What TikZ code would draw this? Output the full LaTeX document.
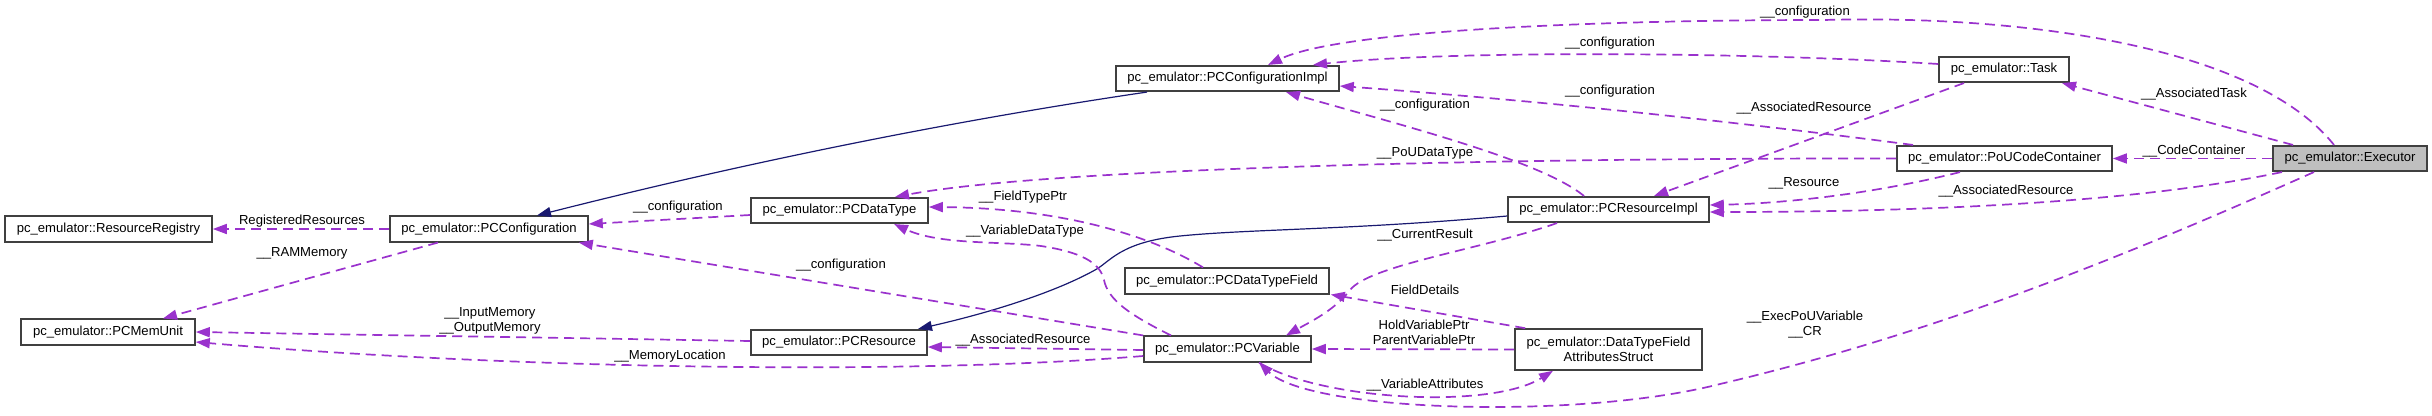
\documentclass[tikz,border=0pt]{standalone}
\usepackage{fontspec}
\setmainfont{Liberation Sans}
\usetikzlibrary{arrows.meta,calc}
\definecolor{depc}{HTML}{9A32CD}
\definecolor{inhc}{HTML}{191970}
\definecolor{bordc}{HTML}{404040}
\definecolor{exefill}{HTML}{BFBFBF}
\begin{document}
\begin{tikzpicture}[x=1pt,y=-1pt,
  cls/.style={draw=bordc,line width=1.6pt,fill=white,inner sep=0pt,minimum height=25.5pt,font=\fontsize{13.1}{15}\selectfont,text=black,align=center},
  lbl/.style={inner sep=0pt,font=\fontsize{13.1}{15}\selectfont,align=center,text=black},
  usage/.style={draw=depc,line width=1.7pt,dash pattern=on 10pt off 6pt,-{Triangle[length=14pt,width=10pt]}},
  inherit/.style={draw=inhc,line width=1.2pt,-{Triangle[length=14pt,width=10pt]}}]
\useasboundingbox (0,0) rectangle (2432,415);
% classes
\node[cls,minimum width=207pt] (RR) at (108.5,229) {pc\_emulator::ResourceRegistry};
\node[cls,minimum width=198pt] (PCC) at (489,229) {pc\_emulator::PCConfiguration};
\node[cls,minimum width=174pt] (MEM) at (108,332) {pc\_emulator::PCMemUnit};
\node[cls,minimum width=223pt] (IMPL) at (1227.5,78.5) {pc\_emulator::PCConfigurationImpl};
\node[cls,minimum width=177pt] (DT) at (839.5,210.5) {pc\_emulator::PCDataType};
\node[cls,minimum width=176pt] (RES) at (839,342.5) {pc\_emulator::PCResource};
\node[cls,minimum width=204pt] (DTF) at (1227,281) {pc\_emulator::PCDataTypeField};
\node[cls,minimum width=167pt] (VAR) at (1227.5,349) {pc\_emulator::PCVariable};
\node[cls,minimum width=201pt] (RIMPL) at (1608.5,209.5) {pc\_emulator::PCResourceImpl};
\node[cls,minimum width=187pt,minimum height=41pt] (DTFAS) at (1608.5,349.5) {pc\_emulator::DataTypeField\\AttributesStruct};
\node[cls,minimum width=130pt] (TASK) at (2004,69.5) {pc\_emulator::Task};
\node[cls,minimum width=215pt] (POU) at (2004.5,158.5) {pc\_emulator::PoUCodeContainer};
\node[cls,minimum width=154pt,fill=exefill] (EXE) at (2350,158.5) {pc\_emulator::Executor};
% inheritance
\draw[inherit] ([xshift=-80.5pt]IMPL.south) .. controls (944,122) and (740,164) .. ([xshift=48pt]PCC.north);
\draw[inherit] ([yshift=-6.5pt]RIMPL.west) .. controls (1350,230) and (1250,229) .. (1180,236) .. controls (1120,242) and (1110,262) .. (1095,270) .. controls (1050,295) and (980,315) .. ([xshift=79pt]RES.north);
% usage
\draw[usage] (PCC.west) -- (RR.east);
\draw[usage] ([xshift=-51pt]PCC.south) -- ([xshift=55pt]MEM.north);
\draw[usage] ([yshift=-4.5pt]DT.west) -- ([yshift=5pt]PCC.east);
\draw[usage] (VAR.north west) -- ([xshift=-10pt]PCC.south east);
\draw[usage] ([yshift=1.5pt]RES.west) -- (MEM.east);
\draw[usage] ([yshift=-7pt]VAR.west) .. controls (900,376) and (500,368) .. ([yshift=-10pt]MEM.east);
\draw[usage] ([xshift=-24pt]DTF.north) .. controls (1150,235) and (1060,208) .. ([yshift=3.5pt]DT.east);
\draw[usage] ([xshift=-56.5pt]VAR.north) .. controls (1130,315) and (1108,300) .. (1104,280) .. controls (1100,262) and (1080,252) .. (1041,246) .. controls (1000,241) and (940,245) .. ([xshift=54.5pt]DT.south);
\draw[usage] ([yshift=-1pt]VAR.west) -- ([yshift=-4.5pt]RES.east);
\draw[usage] ([xshift=-51.5pt]RIMPL.south) .. controls (1480,250) and (1370,265) .. (1350,290) .. controls (1335,310) and (1310,322) .. ([xshift=58.5pt]VAR.north);
\draw[usage] ([xshift=11pt]DTFAS.north west) -- ([xshift=1pt]DTF.south east);
\draw[usage] (DTFAS.west) -- (VAR.east);
\draw[usage] ([xshift=31.5pt]VAR.south) .. controls (1320,400) and (1490,410) .. ([xshift=-55.5pt]DTFAS.south);
\draw[usage] ([xshift=-16pt]EXE.north) .. controls (2250,40) and (2000,15) .. (1824,20) .. controls (1600,20) and (1340,30) .. ([xshift=40.5pt]IMPL.north);
\draw[usage] ([yshift=5.5pt]TASK.west) .. controls (1750,52) and (1450,50) .. ([xshift=85.5pt]IMPL.north);
\draw[usage] ([xshift=-91.5pt]POU.north) .. controls (1722,120) and (1530,100) .. ([yshift=-7.5pt]IMPL.east);
\draw[usage] ([xshift=-24.5pt]RIMPL.north) .. controls (1540,160) and (1400,125) .. ([xshift=58.5pt]IMPL.south);
\draw[usage] (POU.west) .. controls (1500,158) and (1050,168) .. ([xshift=55.5pt]DT.north);
\draw[usage] ([xshift=-40pt]TASK.south) -- ([xshift=45.5pt]RIMPL.north);
\draw[usage] ([xshift=-44.5pt]POU.south) .. controls (1890,190) and (1800,203) .. ([yshift=4.5pt]RIMPL.east);
\draw[usage] ([xshift=-68pt]EXE.south) .. controls (2150,200) and (1950,212) .. ([yshift=-2.5pt]RIMPL.east);
\draw[usage] (EXE.west) -- (POU.east);
\draw[usage] ([xshift=-57pt]EXE.north) -- ([xshift=58pt]TASK.south);
\draw[usage] ([xshift=-36pt]EXE.south) .. controls (2150,245) and (1950,330) .. (1720,384) .. controls (1580,420) and (1310,412) .. ([xshift=31.5pt]VAR.south);
% labels
\node[lbl] (l1) at (302,221) {RegisteredResources};
\node[lbl] (l2) at (302,253) {\_\_RAMMemory};
\node[lbl] (l3) at (678,207) {\_\_configuration};
\node[lbl] (l4) at (490,320.5) {\_\_InputMemory\\\_\_OutputMemory};
\node[lbl] (l5) at (670,356) {\_\_MemoryLocation};
\node[lbl] (l6) at (841,265) {\_\_configuration};
\node[lbl] (l7) at (1023,197) {\_\_FieldTypePtr};
\node[lbl] (l8) at (1025,231) {\_\_VariableDataType};
\node[lbl] (l9) at (1023,340) {\_\_AssociatedResource};
\node[lbl] (l10) at (1425,105) {\_\_configuration};
\node[lbl] (l11) at (1425,153) {\_\_PoUDataType};
\node[lbl] (l12) at (1425,235) {\_\_CurrentResult};
\node[lbl] (l13) at (1425,290) {FieldDetails};
\node[lbl] (l14) at (1424,332.5) {HoldVariablePtr\\ParentVariablePtr};
\node[lbl] (l15) at (1425,385) {\_\_VariableAttributes};
\node[lbl] (l16) at (1805,12) {\_\_configuration};
\node[lbl] (l17) at (1610,43) {\_\_configuration};
\node[lbl] (l18) at (1610,91) {\_\_configuration};
\node[lbl] (l19) at (1804,108) {\_\_AssociatedResource};
\node[lbl] (l20) at (1804,183) {\_\_Resource};
\node[lbl] (l21) at (1805,325) {\_\_ExecPoUVariable\\\_\_CR};
\node[lbl] (l22) at (2194,94) {\_\_AssociatedTask};
\node[lbl] (l23) at (2194,151) {\_\_CodeContainer};
\node[lbl] (l24) at (2006,191) {\_\_AssociatedResource};
\end{tikzpicture}
\end{document}
